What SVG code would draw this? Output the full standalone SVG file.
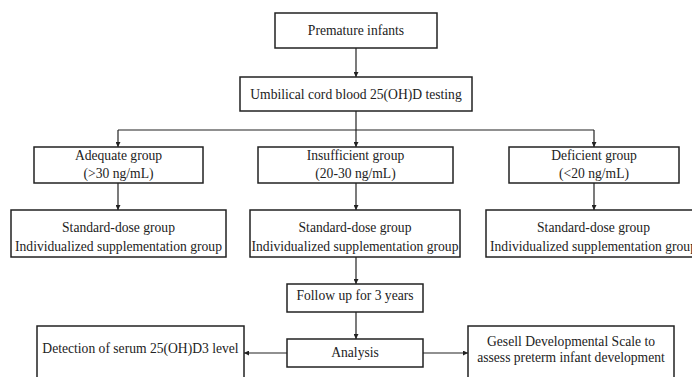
<svg xmlns="http://www.w3.org/2000/svg" width="692" height="377" viewBox="0 0 692 377">
<style>
.box{fill:#fff;stroke:#222;stroke-width:1.5}
.t{font-family:"Liberation Serif","Times New Roman",serif;font-size:13.6px;fill:#222;text-anchor:middle}
.c{fill:none;stroke:#222;stroke-width:1.2}
</style>
<defs>
<marker id="ah" viewBox="0 0 8 8" refX="8" refY="4" markerWidth="5" markerHeight="5" orient="auto" markerUnits="userSpaceOnUse">
<path d="M0,0 L8,4 L0,8 z" fill="#222"/>
</marker>
</defs>
<rect width="692" height="377" fill="#fff"/>
<g id="connectors">
<line class="c" x1="356" y1="48" x2="356" y2="77" marker-end="url(#ah)"/>
<line class="c" x1="356" y1="111" x2="356" y2="130"/>
<line class="c" x1="118" y1="130" x2="594" y2="130"/>
<line class="c" x1="118" y1="130" x2="118" y2="147" marker-end="url(#ah)"/>
<line class="c" x1="356" y1="130" x2="356" y2="147" marker-end="url(#ah)"/>
<line class="c" x1="594" y1="130" x2="594" y2="147" marker-end="url(#ah)"/>
<line class="c" x1="118" y1="183" x2="118" y2="210" marker-end="url(#ah)"/>
<line class="c" x1="356" y1="183" x2="356" y2="210" marker-end="url(#ah)"/>
<line class="c" x1="594" y1="183" x2="594" y2="210" marker-end="url(#ah)"/>
<line class="c" x1="356" y1="257" x2="356" y2="284" marker-end="url(#ah)"/>
<line class="c" x1="356" y1="312" x2="356" y2="339" marker-end="url(#ah)"/>
<line class="c" x1="287" y1="353" x2="244" y2="353" marker-end="url(#ah)"/>
<line class="c" x1="423" y1="353" x2="468" y2="353" marker-end="url(#ah)"/>
</g>
<g id="premature">
<rect class="box" x="275" y="13" width="162" height="35"/>
<text class="t" x="356" y="35">Premature infants</text>
</g>
<g id="umbilical">
<rect class="box" x="240" y="77" width="232" height="34"/>
<text class="t" x="356" y="99">Umbilical cord blood 25(OH)D testing</text>
</g>
<g id="adequate">
<rect class="box" x="34" y="147" width="169" height="36"/>
<text class="t" x="118.5" y="160">Adequate group</text>
<text class="t" x="118.5" y="178">(&gt;30 ng/mL)</text>
</g>
<g id="insufficient">
<rect class="box" x="258" y="147" width="195" height="36"/>
<text class="t" x="355.5" y="160">Insufficient group</text>
<text class="t" x="355.5" y="178">(20-30 ng/mL)</text>
</g>
<g id="deficient">
<rect class="box" x="509" y="147" width="170" height="36"/>
<text class="t" x="594" y="160">Deficient group</text>
<text class="t" x="594" y="178">(&lt;20 ng/mL)</text>
</g>
<g id="dose-left">
<rect class="box" x="11" y="210" width="215" height="47"/>
<text class="t" x="118.5" y="232">Standard-dose group</text>
<text class="t" x="118.5" y="251">Individualized supplementation group</text>
</g>
<g id="dose-mid">
<rect class="box" x="250" y="210" width="210" height="47"/>
<text class="t" x="355" y="232">Standard-dose group</text>
<text class="t" x="355" y="251">Individualized supplementation group</text>
</g>
<g id="dose-right">
<rect class="box" x="486" y="210" width="215" height="47"/>
<text class="t" x="593.5" y="232">Standard-dose group</text>
<text class="t" x="593.5" y="251">Individualized supplementation group</text>
</g>
<g id="followup">
<rect class="box" x="287" y="284" width="136" height="28"/>
<text class="t" x="355" y="300">Follow up for 3 years</text>
</g>
<g id="analysis">
<rect class="box" x="287" y="339" width="136" height="28"/>
<text class="t" x="355" y="357">Analysis</text>
</g>
<g id="detection">
<rect class="box" x="37" y="326" width="207" height="60"/>
<text class="t" x="140.5" y="353">Detection of serum 25(OH)D3 level</text>
</g>
<g id="gesell">
<rect class="box" x="468" y="326" width="206" height="60"/>
<text class="t" x="571" y="346">Gesell Developmental Scale to</text>
<text class="t" x="571" y="362">assess preterm infant development</text>
</g>
</svg>
